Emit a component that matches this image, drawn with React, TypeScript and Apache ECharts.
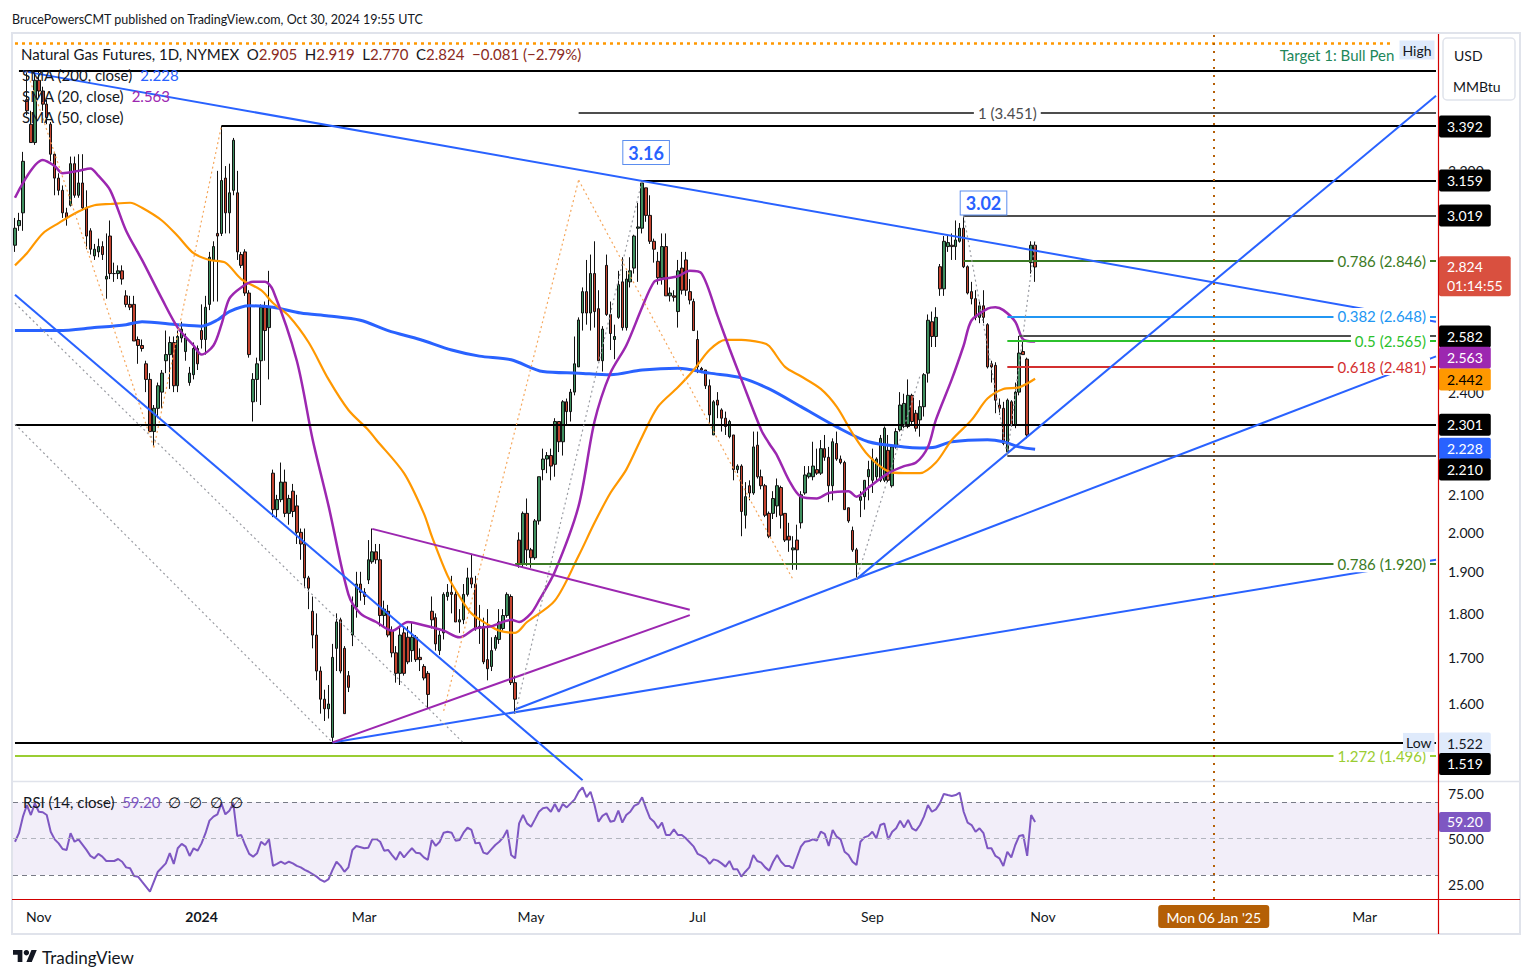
import React, { useEffect, useRef } from "react";
import * as echarts from "echarts";

// ---------------- categories (trading days) ----------------
const FIRST_DAY = "2023-10-24";
const LAST_DAY = "2025-03-27";
const HOLIDAYS = [
  "2023-11-23", "2023-12-25", "2024-01-01", "2024-01-15", "2024-02-19", "2024-03-29",
  "2024-05-27", "2024-07-04", "2024-09-02", "2024-11-28", "2024-12-25", "2025-01-01",
  "2025-01-20", "2025-02-17",
];

// ---------------- daily candles: [open, high, low, close] from 2023-10-24 ----------------
const ohlc: number[][] = [
  [2.905, 3.01, 2.88, 2.97], [2.98, 3.03, 2.96, 3.0], [3.03, 3.28, 2.96, 3.24], [3.51, 3.64, 3.44, 3.46],
  [3.4, 3.46, 3.32, 3.32], [3.32, 3.64, 3.31, 3.6], [3.6, 3.64, 3.52, 3.55], [3.55, 3.57, 3.46, 3.49],
  [3.49, 3.51, 3.4, 3.43], [3.4, 3.41, 3.24, 3.27], [3.27, 3.28, 3.1, 3.17], [3.17, 3.19, 3.1, 3.12],
  [3.12, 3.14, 3.01, 3.03], [3.03, 3.05, 2.98, 3.01], [3.06, 3.26, 3.055, 3.23], [3.23, 3.26, 3.09, 3.1],
  [3.1, 3.27, 3.09, 3.15], [3.15, 3.27, 3.04, 3.05], [3.05, 3.12, 2.89, 2.94], [2.96, 2.97, 2.87, 2.89],
  [2.865, 2.91, 2.85, 2.89], [2.88, 2.93, 2.86, 2.9], [2.9, 2.92, 2.85, 2.87], [2.78, 2.95, 2.71, 2.79],
  [2.94, 3.0, 2.78, 2.8], [2.8, 2.84, 2.77, 2.8], [2.8, 2.83, 2.78, 2.81], [2.81, 2.83, 2.76, 2.78],
  [2.72, 2.74, 2.68, 2.69], [2.69, 2.72, 2.67, 2.68], [2.69, 2.72, 2.565, 2.565], [2.57, 2.58, 2.49, 2.55],
  [2.55, 2.57, 2.53, 2.54], [2.49, 2.5, 2.4, 2.44], [2.44, 2.46, 2.28, 2.28], [2.28, 2.36, 2.235, 2.35],
  [2.35, 2.43, 2.32, 2.42], [2.4, 2.47, 2.35, 2.46], [2.5, 2.6, 2.46, 2.52], [2.52, 2.58, 2.41, 2.56],
  [2.56, 2.58, 2.4, 2.42], [2.42, 2.6, 2.4, 2.58], [2.575, 2.63, 2.56, 2.605], [2.53, 2.59, 2.5, 2.575],
  [2.43, 2.48, 2.42, 2.46], [2.455, 2.56, 2.44, 2.54], [2.54, 2.55, 2.47, 2.49], [2.6, 2.69, 2.54, 2.57],
  [2.57, 2.72, 2.52, 2.68], [2.69, 2.88, 2.67, 2.86], [2.85, 2.92, 2.7, 2.9], [2.95, 3.2, 2.7, 2.94],
  [2.95, 3.392, 2.94, 3.16], [3.17, 3.22, 2.95, 3.03], [3.03, 3.23, 2.95, 3.11], [3.12, 3.34, 3.1, 3.33],
  [3.11, 3.2, 2.85, 2.88], [2.87, 2.88, 2.82, 2.83], [2.88, 2.89, 2.72, 2.73], [2.73, 2.74, 2.51, 2.52],
  [2.37, 2.46, 2.31, 2.44], [2.44, 2.51, 2.37, 2.49], [2.5, 2.69, 2.36, 2.68], [2.68, 2.7, 2.5, 2.6],
  [2.61, 2.81, 2.44, 2.68], [2.16, 2.17, 2.04, 2.06], [2.06, 2.1, 2.04, 2.087], [2.087, 2.19, 2.08, 2.135],
  [2.135, 2.17, 2.04, 2.05], [2.05, 2.1, 2.02, 2.09], [2.11, 2.13, 2.04, 2.055], [2.07, 2.1, 1.97, 2.0],
  [2.0, 2.01, 1.93, 1.97], [1.97, 2.01, 1.86, 1.885], [1.885, 1.89, 1.81, 1.86], [1.805, 1.84, 1.72, 1.75],
  [1.75, 1.8, 1.65, 1.67], [1.67, 1.68, 1.58, 1.61], [1.61, 1.63, 1.565, 1.59], [1.59, 1.64, 1.57, 1.6],
  [1.532, 1.73, 1.522, 1.7], [1.72, 1.8, 1.67, 1.78], [1.785, 1.79, 1.665, 1.67], [1.72, 1.725, 1.58, 1.58],
  [1.66, 1.67, 1.625, 1.635], [1.75, 1.84, 1.725, 1.82], [1.815, 1.9, 1.79, 1.87], [1.87, 1.9, 1.83, 1.85],
  [1.85, 1.86, 1.82, 1.84], [1.88, 1.98, 1.87, 1.93], [1.925, 2.01, 1.92, 1.95], [1.95, 1.97, 1.92, 1.93],
  [1.93, 1.97, 1.77, 1.795], [1.795, 1.83, 1.77, 1.81], [1.805, 1.82, 1.745, 1.75], [1.76, 1.77, 1.7, 1.71],
  [1.71, 1.725, 1.645, 1.665], [1.665, 1.77, 1.64, 1.75], [1.755, 1.77, 1.66, 1.665], [1.745, 1.77, 1.685, 1.69],
  [1.715, 1.78, 1.69, 1.745], [1.745, 1.75, 1.69, 1.695], [1.7, 1.72, 1.67, 1.695], [1.68, 1.685, 1.65, 1.655],
  [1.665, 1.67, 1.59, 1.62], [1.805, 1.84, 1.765, 1.785], [1.79, 1.8, 1.715, 1.73], [1.715, 1.76, 1.705, 1.75],
  [1.755, 1.85, 1.74, 1.845], [1.84, 1.87, 1.83, 1.85], [1.85, 1.89, 1.8, 1.845], [1.845, 1.855, 1.78, 1.78],
  [1.78, 1.81, 1.755, 1.785], [1.785, 1.87, 1.775, 1.845], [1.845, 1.91, 1.84, 1.885], [1.885, 1.945, 1.86, 1.87],
  [1.87, 1.89, 1.76, 1.765], [1.765, 1.82, 1.73, 1.77], [1.77, 1.79, 1.685, 1.69], [1.695, 1.81, 1.65, 1.675],
  [1.68, 1.745, 1.67, 1.715], [1.72, 1.75, 1.715, 1.745], [1.74, 1.81, 1.73, 1.78], [1.765, 1.81, 1.76, 1.795],
  [1.795, 1.85, 1.79, 1.845], [1.84, 1.845, 1.64, 1.645], [1.645, 1.66, 1.58, 1.61], [1.98, 2.0, 1.91, 1.92],
  [1.92, 2.055, 1.91, 2.05], [2.05, 2.09, 1.915, 1.955], [1.955, 1.96, 1.91, 1.935], [1.935, 2.035, 1.93, 2.03],
  [2.03, 2.15, 2.02, 2.15], [2.17, 2.23, 2.14, 2.2], [2.2, 2.22, 2.16, 2.21], [2.21, 2.23, 2.14, 2.18],
  [2.185, 2.32, 2.15, 2.31], [2.31, 2.31, 2.22, 2.25], [2.25, 2.375, 2.21, 2.37], [2.37, 2.38, 2.3, 2.34],
  [2.34, 2.41, 2.31, 2.4], [2.4, 2.58, 2.39, 2.49], [2.48, 2.645, 2.48, 2.636], [2.66, 2.75, 2.6, 2.735],
  [2.735, 2.85, 2.62, 2.66], [2.66, 2.87, 2.6, 2.8], [2.8, 2.92, 2.61, 2.665], [2.675, 2.74, 2.5, 2.5],
  [2.5, 2.615, 2.465, 2.605], [2.83, 2.87, 2.65, 2.655], [2.655, 2.7, 2.535, 2.59], [2.57, 2.62, 2.505, 2.58],
  [2.645, 2.81, 2.64, 2.76], [2.77, 2.86, 2.6, 2.61], [2.61, 2.81, 2.6, 2.78], [2.77, 2.86, 2.75, 2.81],
  [2.82, 2.945, 2.8, 2.94], [2.97, 3.07, 2.77, 2.975], [2.97, 3.161, 2.95, 3.15], [3.13, 3.13, 2.995, 3.02],
  [3.02, 3.1, 2.91, 2.92], [2.92, 2.93, 2.84, 2.89], [2.845, 2.88, 2.76, 2.785], [2.785, 2.95, 2.76, 2.9],
  [2.9, 2.95, 2.72, 2.72], [2.72, 2.75, 2.7, 2.73], [2.72, 2.74, 2.7, 2.715], [2.665, 2.85, 2.61, 2.81],
  [2.82, 2.88, 2.725, 2.74], [2.85, 2.88, 2.72, 2.74], [2.735, 2.78, 2.69, 2.705], [2.7, 2.71, 2.6, 2.6],
  [2.57, 2.6, 2.46, 2.48], [2.475, 2.48, 2.46, 2.47], [2.47, 2.47, 2.41, 2.42], [2.42, 2.44, 2.3, 2.33],
  [2.27, 2.375, 2.27, 2.37], [2.375, 2.4, 2.32, 2.36], [2.345, 2.35, 2.28, 2.32], [2.32, 2.34, 2.27, 2.295],
  [2.265, 2.315, 2.26, 2.31], [2.27, 2.27, 2.14, 2.17], [2.17, 2.185, 2.16, 2.18], [2.18, 2.185, 1.99, 2.055],
  [2.045, 2.135, 2.01, 2.095], [2.125, 2.14, 2.085, 2.105], [2.105, 2.28, 2.1, 2.235], [2.24, 2.28, 2.145, 2.15],
  [2.15, 2.17, 2.115, 2.125], [2.125, 2.13, 2.04, 2.045], [2.05, 2.055, 1.985, 1.99], [2.05, 2.11, 2.035, 2.09],
  [2.07, 2.145, 2.04, 2.125], [2.12, 2.125, 2.01, 2.045], [2.05, 2.05, 1.975, 1.98], [1.99, 2.025, 1.95, 1.98],
  [1.955, 1.99, 1.905, 1.96], [1.98, 2.02, 1.905, 1.955], [2.025, 2.11, 2.01, 2.1], [2.105, 2.18, 2.1, 2.155],
  [2.15, 2.18, 2.145, 2.16], [2.15, 2.25, 2.14, 2.18], [2.17, 2.23, 2.155, 2.16], [2.16, 2.255, 2.155, 2.23],
  [2.23, 2.27, 2.195, 2.205], [2.205, 2.235, 2.08, 2.125], [2.125, 2.26, 2.085, 2.25], [2.245, 2.28, 2.195, 2.2],
  [2.2, 2.21, 2.185, 2.19], [2.19, 2.195, 2.06, 2.06], [2.065, 2.065, 2.025, 2.03], [2.005, 2.015, 1.95, 1.955],
  [1.955, 1.96, 1.882, 1.92], [2.085, 2.11, 2.04, 2.095], [2.095, 2.14, 2.06, 2.14], [2.15, 2.195, 2.085, 2.17],
  [2.14, 2.23, 2.105, 2.2], [2.15, 2.205, 2.135, 2.2], [2.14, 2.27, 2.135, 2.26], [2.14, 2.295, 2.135, 2.29],
  [2.225, 2.27, 2.135, 2.14], [2.125, 2.24, 2.12, 2.235], [2.235, 2.29, 2.23, 2.28], [2.285, 2.4, 2.28, 2.36],
  [2.295, 2.395, 2.29, 2.365], [2.295, 2.44, 2.29, 2.39], [2.39, 2.395, 2.3, 2.31], [2.335, 2.345, 2.28, 2.29],
  [2.315, 2.375, 2.265, 2.355], [2.355, 2.46, 2.325, 2.455], [2.46, 2.655, 2.43, 2.635], [2.63, 2.665, 2.545, 2.58],
  [2.58, 2.68, 2.545, 2.645], [2.825, 2.835, 2.72, 2.745], [2.745, 2.94, 2.72, 2.92], [2.9, 2.94, 2.88, 2.915],
  [2.905, 2.95, 2.85, 2.9], [2.9, 3.0, 2.85, 2.925], [2.92, 2.99, 2.915, 2.97], [2.97, 3.019, 2.82, 2.825],
  [2.825, 2.83, 2.725, 2.73], [2.735, 2.77, 2.69, 2.71], [2.71, 2.74, 2.635, 2.645], [2.645, 2.7, 2.625, 2.685],
  [2.685, 2.74, 2.625, 2.645], [2.62, 2.625, 2.475, 2.48], [2.49, 2.5, 2.43, 2.48], [2.485, 2.495, 2.335, 2.375],
  [2.36, 2.38, 2.33, 2.35], [2.35, 2.37, 2.24, 2.245], [2.22, 2.38, 2.21, 2.375], [2.37, 2.375, 2.295, 2.3],
  [2.3, 2.43, 2.29, 2.4], [2.4, 2.582, 2.39, 2.525], [2.53, 2.565, 2.52, 2.52], [2.505, 2.51, 2.26, 2.27],
  [2.84, 2.92, 2.8, 2.905], [2.905, 2.919, 2.77, 2.824],
];

// ---------------- indicators: [bar, value] (bar = trading-day number from the first candle) ----------------
const sma200: number[][] = [
  [0, 2.6], [4, 2.6], [11, 2.6], [20, 2.61], [28, 2.62], [32, 2.63], [41, 2.62], [47, 2.615], [51, 2.636],
  [54, 2.665], [59, 2.685], [65, 2.68], [72, 2.66], [79, 2.65], [87, 2.635], [94, 2.6], [102, 2.57],
  [110, 2.535], [117, 2.515], [125, 2.503], [133, 2.465], [142, 2.46], [150, 2.455], [158, 2.47],
  [167, 2.476], [175, 2.46], [183, 2.445], [190, 2.41], [198, 2.355], [207, 2.294], [215, 2.25],
  [224, 2.235], [228, 2.232], [232, 2.235], [236, 2.25], [245, 2.256], [249, 2.25], [253, 2.235], [257, 2.228],
];
const sma50: number[][] = [
  [0, 2.83], [3, 2.875], [7, 2.95], [11, 2.99], [16, 3.035], [20, 3.06], [24, 3.065], [29, 3.07], [32, 3.05],
  [37, 3.0], [41, 2.94], [45, 2.875], [49, 2.85], [53, 2.84], [57, 2.78], [62, 2.74], [65, 2.695], [69, 2.65],
  [74, 2.56], [79, 2.44], [84, 2.345], [89, 2.285], [91, 2.256], [98, 2.16], [103, 2.05], [105, 1.99],
  [109, 1.89], [112, 1.84], [115, 1.8], [119, 1.775], [122, 1.76], [126, 1.755], [129, 1.78], [136, 1.83],
  [142, 1.94], [146, 2.025], [150, 2.105], [154, 2.17], [158, 2.265], [162, 2.355], [167, 2.415], [171, 2.47],
  [175, 2.536], [179, 2.569], [183, 2.569], [188, 2.56], [190, 2.548], [194, 2.48], [198, 2.45], [203, 2.41],
  [207, 2.355], [211, 2.275], [215, 2.21], [220, 2.165], [224, 2.16], [228, 2.16], [232, 2.19], [236, 2.255],
  [241, 2.315], [245, 2.38], [249, 2.41], [253, 2.415], [257, 2.442],
];
const sma20: number[][] = [
  [0, 3.09], [7, 3.245], [10, 3.22], [12, 3.19], [16, 3.2], [19, 3.21], [21, 3.18], [24, 3.12], [28, 2.96],
  [32, 2.85], [37, 2.71], [41, 2.61], [45, 2.55], [47, 2.52], [50, 2.55], [52, 2.62], [54, 2.71], [57, 2.75],
  [60, 2.77], [63, 2.77], [65, 2.74], [71, 2.5], [75, 2.256], [79, 2.07], [84, 1.845], [87, 1.8], [91, 1.78],
  [95, 1.76], [99, 1.78], [104, 1.77], [108, 1.76], [112, 1.745], [116, 1.765], [120, 1.77], [125, 1.785],
  [127, 1.78], [130, 1.8], [132, 1.83], [136, 1.9], [142, 2.07], [146, 2.31], [150, 2.46], [154, 2.55],
  [158, 2.68], [161, 2.77], [163, 2.78], [167, 2.79], [170, 2.81], [173, 2.8], [177, 2.65], [180, 2.54],
  [183, 2.44], [188, 2.285], [190, 2.245], [192, 2.21], [195, 2.14], [198, 2.095], [202, 2.09], [205, 2.105],
  [210, 2.11], [212, 2.095], [215, 2.12], [220, 2.16], [224, 2.18], [227, 2.19], [230, 2.235], [232, 2.315],
  [236, 2.44], [239, 2.55], [241, 2.635], [245, 2.675], [247, 2.68], [249, 2.67], [252, 2.63], [254, 2.57],
  [257, 2.563],
];
const rsi14: number[][] = [
  [0, 48.3], [1, 53], [2, 62.1], [3, 68.5], [4, 63], [5, 69.4], [6, 64.8], [7, 64.5], [8, 63], [9, 53.8],
  [10, 49.6], [11, 47.4], [12, 44.3], [13, 43.8], [14, 53], [15, 48.3], [16, 49.6], [18, 43.8], [19, 40.5],
  [20, 39.2], [21, 41.6], [22, 40.1], [23, 37.7], [25, 37.7], [26, 38.8], [27, 37.3], [28, 34.2], [29, 33.7],
  [30, 29.5], [31, 29.1], [32, 26.3], [34, 20.8], [35, 26.3], [36, 31.8], [38, 36.4], [39, 42], [40, 36.1],
  [41, 44.7], [42, 47.1], [43, 45.6], [44, 40.5], [45, 44.7], [46, 43.4], [47, 47.4], [48, 53], [49, 59.9],
  [50, 62.1], [51, 63.4], [52, 69.4], [53, 63.4], [54, 65.4], [55, 69.4], [56, 51.5], [57, 52], [58, 46.5],
  [59, 41.6], [60, 40.1], [61, 42], [62, 48.3], [63, 46.5], [64, 49.6], [65, 35], [66, 36.1], [67, 37.3],
  [68, 36.1], [69, 37.3], [70, 36.4], [71, 35], [72, 34.2], [73, 32.8], [74, 31.8], [76, 29.1], [77, 27.3],
  [78, 26.3], [79, 27.7], [80, 32.8], [81, 37.3], [82, 35], [83, 31.8], [84, 34.2], [85, 43.8], [86, 46],
  [88, 44.7], [89, 45], [90, 49.6], [91, 49.8], [92, 48.3], [93, 43.4], [94, 43.8], [95, 41], [96, 38.3],
  [97, 42.8], [98, 39.7], [99, 42.3], [100, 44.7], [101, 42.3], [102, 42], [103, 39.7], [104, 38.3],
  [105, 49.3], [106, 46], [107, 48.3], [108, 53.3], [109, 53.8], [110, 53.3], [111, 48.9], [112, 49.3],
  [113, 53.3], [114, 56], [115, 54.8], [116, 47.4], [117, 47.8], [118, 42.3], [119, 41.6], [120, 44.1],
  [121, 46.5], [122, 48.3], [123, 50.7], [124, 54.8], [125, 41], [126, 39.2], [127, 58.4], [128, 63],
  [129, 58.4], [130, 56.6], [131, 60.6], [132, 64.8], [133, 66.7], [134, 67.2], [135, 64.8], [136, 69.1],
  [137, 64.8], [138, 69.1], [139, 67.2], [140, 69.4], [141, 71.6], [142, 75.8], [143, 78.2], [144, 72.8],
  [145, 75.8], [146, 68.5], [147, 59.3], [148, 62.5], [149, 64], [150, 59.3], [151, 59.9], [152, 65.4],
  [153, 58.8], [154, 63], [155, 64.8], [156, 68], [157, 69.1], [158, 72.8], [159, 66.7], [160, 61.2],
  [161, 59.3], [162, 55.7], [163, 58.8], [164, 52], [165, 52], [166, 55.1], [167, 52], [168, 52], [169, 50.2],
  [171, 45.6], [172, 41.6], [173, 40.5], [174, 39.2], [175, 36.1], [176, 38.6], [177, 37.9], [178, 36.4],
  [179, 34.6], [180, 37.7], [181, 33.1], [182, 33.1], [183, 29.1], [184, 31.8], [185, 34.2], [186, 41],
  [187, 37.7], [188, 36.8], [189, 34.2], [190, 32.4], [191, 37.3], [192, 41], [193, 37.3], [194, 35],
  [195, 35], [196, 33.7], [197, 39.7], [198, 45.6], [199, 48.3], [200, 48.7], [201, 49.6], [202, 48.9],
  [203, 53.8], [204, 52.6], [205, 46], [206, 54.8], [207, 51.1], [208, 49.6], [209, 42.8], [210, 41],
  [211, 37.3], [212, 35.5], [213, 48.3], [214, 50.7], [215, 51.5], [216, 53.8], [217, 50.2], [218, 57.5],
  [219, 58.4], [220, 49.6], [221, 53.8], [222, 55.7], [223, 59.9], [224, 56.2], [225, 60.3], [226, 55.7],
  [227, 54.4], [228, 57.5], [229, 62.1], [230, 68.5], [231, 64.8], [232, 66.1], [233, 69.4], [234, 74.6],
  [235, 74], [236, 73.5], [237, 74], [238, 75.3], [239, 64.8], [240, 58.8], [241, 57.5], [242, 53.8],
  [243, 55.7], [244, 53], [245, 44.7], [246, 44.7], [247, 40.5], [248, 39.2], [249, 35], [250, 42.8],
  [251, 39.7], [252, 46.5], [253, 51.5], [254, 52], [255, 40.5], [256, 63], [257, 59.2],
];

// ---------------- axis ticks and time labels ----------------
const priceTicks = [1.6, 1.7, 1.8, 1.9, 2.0, 2.1, 2.4, 3.2];
const rsiTicks = [25, 50, 75];
const rsiGuides = [70, 50, 30];
const timeLabelDates = ["2023-11-01", "2024-01-02", "2024-03-01", "2024-05-01", "2024-07-01", "2024-09-03", "2024-11-01", "2025-03-03"];
const timeLabelTexts = ["Nov", "2024", "Mar", "May", "Jul", "Sep", "Nov", "Mar"];
const markedDay = "2025-01-06";
const markedDayText = "Mon 06 Jan '25";

// ---------------- drawn levels ----------------
const levelValues = [3.643, 3.451, 3.392, 3.159, 3.019, 2.846, 2.648, 2.582, 2.565, 2.481, 2.301, 2.21, 1.92, 1.522, 1.496];
const levelStartBars = [1, 142, 52, 158, 239, 239, 250, 253, 250, 250, 0, 250, 126, 0, 0];
const levelTexts = ["", "1 (3.451)", "", "", "", "0.786 (2.846)", "0.382 (2.648)", "", "0.5 (2.565)", "0.618 (2.481)", "", "", "0.786 (1.920)", "", "1.272 (1.496)"];
const targetLevel = 3.778;
const targetEndBar = 347;
const targetText = "Target 1: Bull Pen";

// trend lines: [[bar, price], [bar, price]]
const blueTrends = [
  [[2, 3.643], [358, 2.63]],
  [[0, 2.724], [143, 1.449]],
  [[126, 1.5886], [358, 2.514]],
  [[212, 1.882], [358, 3.528]],
  [[80, 1.522], [358, 1.93]],
];
const purpleTrends = [
  [[90, 2.009], [170, 1.8087]],
  [[80, 1.522], [170, 1.796]],
];
const orangeZigzags = [
  [[3, 3.643], [35, 2.233], [52, 3.392]],
  [[108, 1.5857], [142, 3.162], [196, 1.881]],
];
const grayZigzags = [
  [[0, 2.6947], [113, 1.521]],
  [[0, 2.302], [80, 1.522]],
  [[126, 1.58], [158, 3.161]],
  [[212, 1.882], [228, 2.451]],
  [[239, 3.019], [250, 2.21], [257, 2.919]],
];
const peakNotes = [
  { text: "3.16", bar: 159, price: 3.277 },
  { text: "3.02", bar: 244, price: 3.069 },
];

// price-scale badges: text, and the price where TradingView placed it
const badgeTexts = ["3.392", "3.159", "3.019", "2.824\n01:14:55", "2.582", "2.563", "2.442", "2.301", "2.228", "2.210", "1.522", "1.519"];
const badgeAt = [3.392, 3.159, 3.019, 2.7895, 2.582, 2.512, 2.442, 2.301, 2.228, 2.166, 1.522, 1.48];
const rsiLast = 59.2;

// ---------------- styles ----------------
const FONT = "Lato, 'Noto Sans', sans-serif";
const TXT = "#131722";
const UP = "#3f8f5f";
const DOWN = "#c4432f";
const BLUE = "#2962ff";
const PURPLE = "#9c27b0";
const ORANGE = "#ff9800";
const CLEAR = "rgba(0,0,0,0)";
const levelColors = ["#000", "#4d4d4d", "#000", "#000", "#4d4d4d", "#3b7a24", "#2196f3", "#4d4d4d", "#2cc12c", "#d32f2f", "#000", "#4d4d4d", "#3b7a24", "#000", "#9acd32"];
const badgeBg = ["#000", "#000", "#000", "#d9503f", "#000", PURPLE, ORANGE, "#000", BLUE, "#000", "#dfeafb", "#000"];
const badgeFg = ["#fff", "#fff", "#fff", "#fff", "#fff", "#fff", "#000", "#fff", "#fff", "#fff", TXT, "#fff"];

function buildDates(): string[] {
  const out: string[] = [];
  const hol = new Set(HOLIDAYS);
  const d = new Date(FIRST_DAY + "T00:00:00Z");
  const end = new Date(LAST_DAY + "T00:00:00Z").getTime();
  while (d.getTime() <= end) {
    const wd = d.getUTCDay();
    const s = d.toISOString().slice(0, 10);
    if (wd !== 0 && wd !== 6 && !hol.has(s)) out.push(s);
    d.setUTCDate(d.getUTCDate() + 1);
  }
  return out;
}

function segs(points: number[][][], style: any) {
  const out: any[] = [];
  points.forEach((pl) => {
    for (let k = 0; k < pl.length - 1; k++) {
      out.push([{ coord: pl[k], lineStyle: style, label: { show: false } }, { coord: pl[k + 1] }]);
    }
  });
  return out;
}

function buildOption() {
  const dates = buildDates();
  const LAST = dates.length - 1;
  const labelIdx = new Map<number, string>();
  timeLabelDates.forEach((d, k) => labelIdx.set(dates.indexOf(d), timeLabelTexts[k]));

  const candleData = ohlc.map(([o, h, l, c]) => [o, c, l, h]);

  const levelLines = levelValues.map((v, k) => {
    const color = levelColors[k];
    const text = levelTexts[k];
    const first: any = {
      coord: [levelStartBars[k], v],
      lineStyle: { color, width: 2, type: "solid" },
      label: { show: false },
    };
    if (text) {
      first.label = {
        show: true,
        position: k === 1 ? "insideMiddle" : "insideEnd",
        formatter: text,
        color: k === 1 ? "#4d4d4d" : color,
        fontSize: 15,
        fontFamily: FONT,
        backgroundColor: "#fff",
        padding: [1, 4, 1, 4],
        distance: 6,
      };
    }
    return [first, { coord: [LAST, v] }];
  });

  const targetLine = [
    {
      coord: [0, targetLevel],
      lineStyle: { color: ORANGE, width: 2.5, type: [3, 4] },
      label: {
        show: true,
        position: "insideEndBottom",
        formatter: targetText,
        color: "#21875a",
        fontSize: 15,
        fontFamily: FONT,
        distance: [-2, 4],
      },
    },
    { coord: [targetEndBar, targetLevel] },
  ];

  const drawings = [
    ...levelLines,
    targetLine,
    ...segs(blueTrends, { color: BLUE, width: 2, type: "solid" }),
    ...segs(purpleTrends, { color: PURPLE, width: 2, type: "solid" }),
    ...segs(orangeZigzags, { color: "#f5a65b", width: 1.2, type: [2, 3] }),
    ...segs(grayZigzags, { color: "#9a9ca3", width: 1.2, type: [2, 3] }),
    [
      { xAxis: markedDay, yAxis: 1.44754, lineStyle: { color: "#b45f06", width: 2, type: [2, 6] }, label: { show: false } },
      { xAxis: markedDay, yAxis: 3.8232 },
    ],
  ];

  const tickLines = priceTicks.map((v) => ({
    yAxis: v,
    lineStyle: { color: CLEAR, width: 0 },
    label: { show: true, position: "end", distance: 10, formatter: v.toFixed(3), color: TXT, fontSize: 14, fontFamily: FONT },
  }));

  const badgeLines = badgeTexts.map((t, k) => ({
    yAxis: badgeAt[k],
    lineStyle: { color: CLEAR, width: 0 },
    label: {
      show: true,
      position: "end",
      distance: 1,
      formatter: t,
      color: badgeFg[k],
      backgroundColor: badgeBg[k],
      fontSize: 14,
      fontFamily: FONT,
      lineHeight: k === 3 ? 19 : 16,
      padding: k === 3 ? [1, 8, 1, 8] : [3, 8, 3, 8],
      borderRadius: 2,
    },
  }));

  const notePoints = peakNotes.map((n) => ({
    coord: [n.bar, n.price],
    symbol: "rect",
    symbolSize: 1,
    itemStyle: { color: CLEAR },
    label: {
      show: true,
      position: "inside",
      formatter: n.text,
      color: BLUE,
      fontSize: 18,
      fontWeight: "bold",
      fontFamily: FONT,
      backgroundColor: "#fff",
      borderColor: "#5b8def",
      borderWidth: 1,
      padding: [3, 5, 2, 5],
    },
  }));
  const tagLabel = (text: string, price: number) => ({
    coord: [LAST, price],
    symbol: "rect",
    symbolSize: 1,
    itemStyle: { color: CLEAR },
    label: {
      show: true,
      position: "left",
      distance: 1,
      formatter: text,
      color: TXT,
      fontSize: 14,
      fontFamily: FONT,
      backgroundColor: "#dfeafb",
      padding: [3, 3, 2, 3],
    },
  });

  const hidden = { show: false };
  const lineBase = { type: "line", showSymbol: false, symbol: "none", silent: true, xAxisIndex: 0, yAxisIndex: 0, clip: false };

  return {
    animation: false,
    backgroundColor: "#fff",
    textStyle: { fontFamily: FONT },
    grid: [
      { left: 13, right: 95, top: 34, height: 747 },
      { left: 13, right: 95, top: 782, height: 117 },
    ],
    xAxis: [
      { type: "category", data: dates, gridIndex: 0, axisLine: hidden, axisTick: hidden, axisLabel: hidden, splitLine: hidden },
      {
        type: "category",
        data: dates,
        gridIndex: 1,
        axisLine: hidden,
        axisTick: hidden,
        splitLine: hidden,
        axisLabel: {
          show: true,
          interval: (i: number) => labelIdx.has(i),
          formatter: (_v: string, i: number) => {
            const t = labelIdx.get(i) || "";
            return /^\d{4}$/.test(t) ? "{b|" + t + "}" : t;
          },
          margin: 10,
          color: TXT,
          fontSize: 14,
          fontFamily: FONT,
          rich: { b: { fontWeight: "bold", fontSize: 14, color: TXT, fontFamily: FONT } },
        },
      },
    ],
    yAxis: [
      { type: "log", logBase: 10, gridIndex: 0, min: 1.44754, max: 3.8232, position: "right", axisLine: hidden, axisTick: hidden, axisLabel: hidden, splitLine: hidden },
      { type: "value", gridIndex: 1, min: 16.8, max: 81.17, position: "right", axisLine: hidden, axisTick: hidden, axisLabel: hidden, splitLine: hidden },
    ],
    series: [
      {
        type: "candlestick",
        name: "NG",
        xAxisIndex: 0,
        yAxisIndex: 0,
        data: candleData,
        barWidth: 3,
        silent: true,
        itemStyle: { color: UP, color0: DOWN, borderColor: "#111", borderColor0: "#111", borderWidth: 1 },
        z: 2,
      },
      { ...lineBase, name: "SMA200", data: sma200, smooth: 0.3, lineStyle: { color: BLUE, width: 3 }, z: 3, clip: true },
      { ...lineBase, name: "SMA50", data: sma50, smooth: 0.3, lineStyle: { color: ORANGE, width: 2.2 }, z: 3, clip: true },
      { ...lineBase, name: "SMA20", data: sma20, smooth: 0.3, lineStyle: { color: PURPLE, width: 2.5 }, z: 3, clip: true },
      {
        ...lineBase,
        name: "drawings",
        data: [],
        z: 4,
        markLine: { silent: true, symbol: ["none", "none"], animation: false, data: drawings },
        markPoint: { silent: true, animation: false, data: [...notePoints, tagLabel("High", 3.744), tagLabel("Low", 1.522)] },
      },
      {
        ...lineBase,
        name: "ticks",
        data: [],
        z: 5,
        markLine: { silent: true, symbol: ["none", "none"], animation: false, data: tickLines },
      },
      {
        ...lineBase,
        name: "badges",
        data: [],
        z: 6,
        markLine: { silent: true, symbol: ["none", "none"], animation: false, data: badgeLines },
      },
      {
        type: "line",
        name: "RSI",
        xAxisIndex: 1,
        yAxisIndex: 1,
        data: rsi14,
        showSymbol: false,
        symbol: "none",
        silent: true,
        clip: false,
        lineStyle: { color: "#7e57c2", width: 2 },
        z: 3,
        markArea: { silent: true, itemStyle: { color: "rgba(126, 87, 194, 0.1)" }, data: [[{ yAxis: 30 }, { yAxis: 70 }]] },
        markLine: {
          silent: true,
          symbol: ["none", "none"],
          animation: false,
          data: [
            ...rsiGuides.map((v) => ({
              yAxis: v,
              lineStyle: { color: v === 50 ? "#b2b5be" : "#787b86", width: 1, type: [5, 4] },
              label: { show: false },
            })),
            ...rsiTicks.map((v) => ({
              yAxis: v,
              lineStyle: { color: CLEAR, width: 0 },
              label: { show: true, position: "end", distance: 10, formatter: v.toFixed(2), color: TXT, fontSize: 14, fontFamily: FONT },
            })),
            {
              xAxis: markedDay,
              lineStyle: { color: "#b45f06", width: 2, type: [2, 6] },
              label: {
                show: true,
                position: "start",
                distance: 6,
                formatter: markedDayText,
                color: "#fff",
                backgroundColor: "#b45f06",
                padding: [5, 8, 4, 8],
                borderRadius: 3,
                fontSize: 14,
                fontFamily: FONT,
              },
            },
          ],
        },
      },
      {
        type: "line",
        name: "rsiBadge",
        xAxisIndex: 1,
        yAxisIndex: 1,
        data: [],
        silent: true,
        clip: false,
        z: 6,
        markLine: {
          silent: true,
          symbol: ["none", "none"],
          animation: false,
          data: [
            {
              yAxis: rsiLast,
              lineStyle: { color: CLEAR, width: 0 },
              label: {
                show: true,
                position: "end",
                distance: 1,
                formatter: rsiLast.toFixed(2),
                color: "#fff",
                backgroundColor: "#7e57c2",
                padding: [3, 8, 3, 8],
                borderRadius: 2,
                fontSize: 14,
                fontFamily: FONT,
              },
            },
          ],
        },
      },
    ],
    graphic: [
      { type: "text", x: 12, y: 19, style: { text: "BrucePowersCMT published on TradingView.com, Oct 30, 2024 19:55 UTC", fill: TXT, font: `12.5px ${FONT}`, verticalAlign: "middle" } },
      { type: "rect", shape: { x: 12, y: 33, width: 1508, height: 901 }, style: { fill: "none", stroke: "#e0e3eb", lineWidth: 2 }, z: 100 },
      { type: "line", shape: { x1: 12, y1: 781.5, x2: 1520, y2: 781.5 }, style: { stroke: "#e0e3eb", lineWidth: 1.5 }, z: 100 },
      { type: "line", shape: { x1: 1438.5, y1: 34, x2: 1438.5, y2: 934 }, style: { stroke: "#d10000", lineWidth: 1.2 }, z: 100 },
      { type: "line", shape: { x1: 12, y1: 899.5, x2: 1520, y2: 899.5 }, style: { stroke: "#d10000", lineWidth: 1.2 }, z: 100 },
      { type: "rect", shape: { x: 1443, y: 38, width: 72, height: 62, r: 4 }, style: { fill: "#fff", stroke: "#e0e3eb", lineWidth: 1.5 }, z: 100 },
      { type: "text", x: 1454, y: 55, style: { text: "USD", fill: TXT, font: `14px ${FONT}`, verticalAlign: "middle" }, z: 101 },
      { type: "text", x: 1453, y: 86, style: { text: "MMBtu", fill: TXT, font: `14px ${FONT}`, verticalAlign: "middle" }, z: 101 },
      {
        type: "text",
        x: 21,
        y: 54,
        z: 100,
        style: {
          text: "{n|Natural Gas Futures, 1D, NYMEX}  {n|O}{v|2.905}  {n|H}{v|2.919}  {n|L}{v|2.770}  {n|C}{v|2.824}  {v|\u22120.081 (\u22122.79%)}",
          verticalAlign: "middle",
          font: `15px ${FONT}`,
          rich: { n: { fill: TXT, fontSize: 15, fontFamily: FONT }, v: { fill: "#8b2a22", fontSize: 15, fontFamily: FONT } },
        },
      },
      {
        type: "text", x: 22, y: 75, z: 100,
        style: { text: "{n|SMA (200, close)}  {v|2.228}", verticalAlign: "middle", font: `15px ${FONT}`, rich: { n: { fill: TXT, fontSize: 15, fontFamily: FONT }, v: { fill: BLUE, fontSize: 15, fontFamily: FONT } } },
      },
      {
        type: "text", x: 22, y: 96, z: 100,
        style: { text: "{n|SMA (20, close)}  {v|2.563}", verticalAlign: "middle", font: `15px ${FONT}`, rich: { n: { fill: TXT, fontSize: 15, fontFamily: FONT }, v: { fill: PURPLE, fontSize: 15, fontFamily: FONT } } },
      },
      { type: "text", x: 22, y: 117, z: 100, style: { text: "SMA (50, close)", fill: TXT, verticalAlign: "middle", font: `15px ${FONT}` } },
      {
        type: "text", x: 23, y: 802, z: 100,
        style: {
          text: "{n|RSI (14, close)}  {v|59.20}  {n|\u2205  \u2205  \u2205  \u2205}",
          verticalAlign: "middle",
          font: `15px ${FONT}`,
          rich: { n: { fill: TXT, fontSize: 15, fontFamily: FONT }, v: { fill: "#7e57c2", fontSize: 15, fontFamily: FONT } },
        },
      },
      { type: "tvlogo", x: 13, y: 947.3, scaleX: 0.67, scaleY: 0.67, style: { fill: TXT }, z: 100 },
      { type: "circle", shape: { cx: 26.4, cy: 952.7, r: 2.7 }, style: { fill: TXT }, z: 100 },
      { type: "text", x: 42, y: 957, z: 100, style: { text: "TradingView", fill: TXT, font: `17px ${FONT}`, verticalAlign: "middle" } },
    ],
  };
}

let shapeRegistered = false;
function registerLogo() {
  if (shapeRegistered) return;
  echarts.graphic.registerShape("tvlogo", echarts.graphic.extendPath("M14 22H7V11H0V4h14v18zM28 22h-8l7.5-18h8L28 22z", {}));
  shapeRegistered = true;
}

export default function App() {
  const ref = useRef<HTMLDivElement>(null);
  useEffect(() => {
    if (!ref.current) return;
    registerLogo();
    const chart = echarts.init(ref.current, null, { renderer: "svg" });
    chart.setOption(buildOption() as any);
    return () => chart.dispose();
  }, []);
  return <div ref={ref} style={{ position: "fixed", left: 0, top: 0, width: 1533, height: 978, background: "#fff" }} />;
}
